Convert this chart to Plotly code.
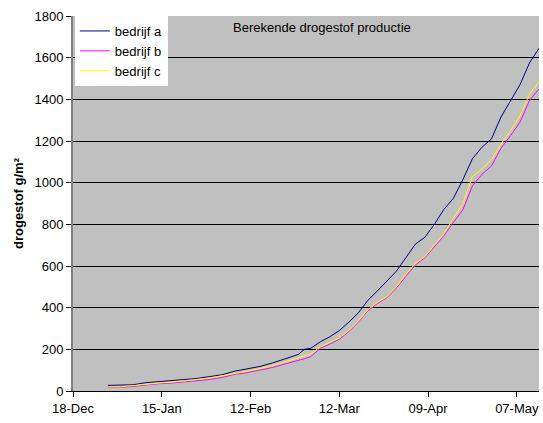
import plotly.graph_objects as go
import pandas as pd

start = pd.Timestamp("2004-12-18")
days = [11, 15, 19, 23, 27, 31, 35, 39, 43, 47, 51, 55, 59, 63, 67, 71, 73, 75, 78, 81,
        84, 87, 90, 93, 96, 99, 102, 105, 108, 111, 114, 117, 120, 123, 126, 129, 132,
        135, 138, 141, 144, 147]
dates = [start + pd.Timedelta(days=d) for d in days]

bedrijf_a = [27, 27, 30, 40, 44, 48, 55, 60, 70, 78, 95, 105, 118, 135, 155, 175, 200, 205,
             236, 260, 290, 330, 375, 435, 480, 525, 575, 640, 705, 738, 800, 872, 925,
             1015, 1115, 1170, 1210, 1315, 1395, 1470, 1575, 1645]
bedrijf_b = [18, 18, 22, 30, 35, 38, 43, 50, 55, 65, 80, 88, 100, 113, 130, 145, 155, 165,
             205, 225, 248, 285, 330, 385, 420, 448, 495, 550, 605, 640, 690, 745, 810,
             870, 985, 1040, 1080, 1165, 1225, 1290, 1395, 1450]
bedrijf_c = [20, 20, 26, 33, 38, 42, 50, 55, 62, 72, 85, 95, 108, 122, 140, 160, 168, 178,
             212, 232, 255, 290, 335, 390, 425, 452, 500, 560, 612, 645, 700, 755, 830,
             900, 1030, 1065, 1110, 1185, 1250, 1320, 1425, 1483]

tick_days = [0, 28, 56, 84, 112, 140]
tick_vals = [start + pd.Timedelta(days=d) for d in tick_days]
tick_text = [t.strftime("%d-%b") for t in tick_vals]

series = [("bedrijf a", bedrijf_a, "#000080"),
          ("bedrijf b", bedrijf_b, "#FF00FF"),
          ("bedrijf c", bedrijf_c, "#FFFF00")]

fig = go.Figure()
for name, vals, col in series:
    fig.add_trace(go.Scatter(x=dates, y=vals, mode="lines", name=name,
                             line=dict(color=col, width=1)))

font = "Liberation Sans, Arial, sans-serif"
fig.update_layout(
    width=543, height=423,
    margin=dict(l=73, r=4, t=16, b=32),
    paper_bgcolor="white", plot_bgcolor="#C0C0C0",
    font=dict(family=font, size=13, color="black"),
    showlegend=True,
    legend=dict(x=0.004, y=1, xanchor="left", yanchor="top", bgcolor="white",
                font=dict(size=13), tracegroupgap=0, itemwidth=30,
                borderwidth=0),
    xaxis=dict(range=[start, start + pd.Timedelta(days=147)], tickvals=tick_vals,
               ticktext=tick_text, ticks="outside", ticklen=5, tickcolor="black",
               showgrid=False, showline=True, linecolor="black", linewidth=1,
               zeroline=False, tickfont=dict(size=13)),
    yaxis=dict(range=[0, 1800], dtick=200, ticks="outside", ticklen=5,
               tickcolor="black", showgrid=True, gridcolor="black", gridwidth=1,
               showline=True, linecolor="#808080", linewidth=2, zeroline=False,
               tickfont=dict(size=13),
               title=dict(text="<b>drogestof g/m²</b>", font=dict(size=13), standoff=8)),
    annotations=[dict(text="Berekende drogestof productie", xref="paper", yref="paper",
                      x=0.534, y=1, xanchor="center", yanchor="top", yshift=-2,
                      showarrow=False, font=dict(size=13))],
)

fig.write_html("out.html", config={"displayModeBar": False},
               post_script="document.body.style.margin='0';document.body.style.overflow='hidden';")
